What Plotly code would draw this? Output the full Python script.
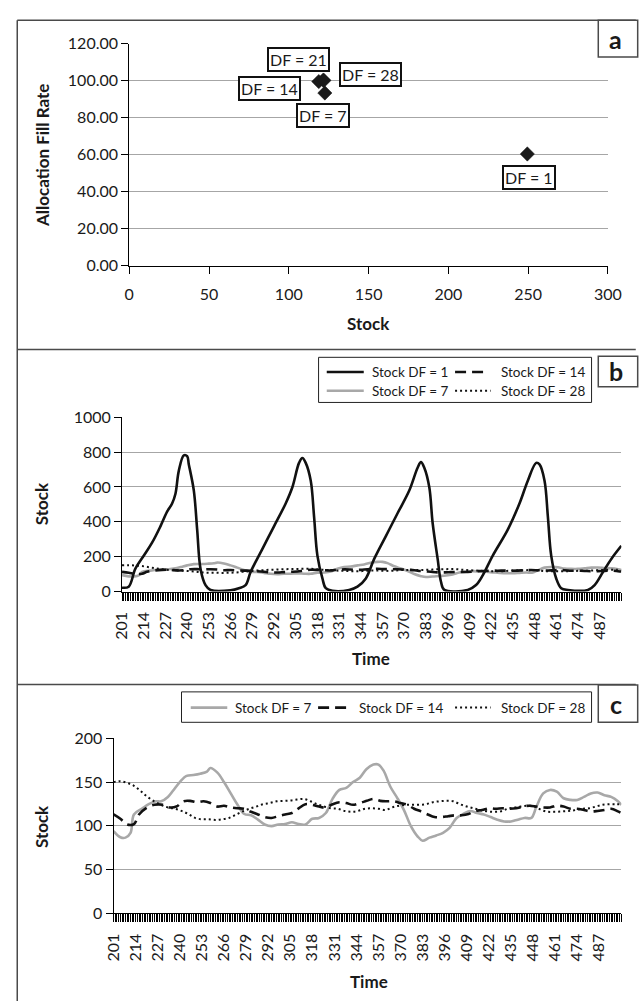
import plotly.graph_objects as go

W, H = 644, 1007

# ---------------- Panel a data ----------------
df_labels = ["DF = 1", "DF = 7", "DF = 14", "DF = 21", "DF = 28"]
stock_mean = [249.5, 122.6, 118.8, 121.6, 122.0]
fill_rate = [60.4, 93.4, 99.6, 100.4, 100.2]
label_offsets = [(1.5, 23.5), (-1.5, 22.5), (-49.5, 7), (-25, -20.5), (47, -6)]

# ---------------- Panel b / c data ----------------
time_df1 = [201, 205, 209, 214, 219, 224, 228, 231, 233, 235, 238, 240, 241, 244, 246, 248, 251, 254,
            266, 271, 275, 278, 285, 292, 299, 303, 307, 309, 311, 314, 316, 318, 321, 323, 327,
            337, 342, 347, 352, 359, 366, 373, 378, 380, 382, 385, 387, 390, 392, 394,
            408, 413, 417, 423, 432, 439, 444, 449, 451, 454, 456, 458, 461, 464, 468,
            480, 484, 489, 494, 500]
stock_df1 = [22, 28, 131, 205, 280, 374, 458, 505, 561, 692, 781, 776, 729, 579, 355, 131, 37, 9,
             7, 19, 37, 112, 243, 374, 505, 598, 738, 766, 738, 636, 430, 206, 75, 19, 4,
             9, 28, 75, 187, 318, 449, 579, 710, 742, 710, 598, 393, 187, 56, 9,
             9, 37, 93, 206, 355, 505, 636, 738, 729, 636, 430, 206, 75, 19, 9,
             9, 37, 112, 187, 262]

time_df7 = [201, 205, 208, 211, 213, 218, 222, 226, 229, 233, 236, 240, 244, 248, 252, 256, 258, 262,
            266, 270, 274, 278, 282, 286, 290, 294, 298, 302, 306, 310, 314, 318, 322, 326, 330,
            334, 338, 342, 346, 350, 354, 357, 360, 364, 368, 372, 376, 380, 383, 387, 391, 395,
            399, 403, 407, 411, 415, 419, 423, 427, 431, 435, 439, 443, 447, 450, 454, 458, 462,
            466, 470, 474, 478, 482, 486, 490, 494, 498, 500]
stock_df7 = [94, 87, 86.5, 92, 113, 120, 125, 128, 128, 133, 140, 150, 157, 158, 159.5, 162, 166, 161,
             150, 137, 124, 113.5, 112, 107, 101.5, 99.6, 101.5, 102, 104, 102, 101.5, 108, 109, 114.6, 131,
             141, 143.4, 150, 155, 165, 170, 170, 163, 144.6, 132, 118, 100, 88, 83, 86.5, 89, 92,
             98, 109, 113.5, 117, 114.6, 113, 110, 107, 105, 105, 107, 109, 109, 122, 137, 141, 139,
             131.5, 129.6, 129.6, 133, 137, 138, 135, 133, 128, 124]

time_df14 = [201, 205, 209, 213, 216, 220, 225, 230, 234, 238, 242, 246, 250, 254, 258, 262, 266, 270,
             274, 278, 282, 286, 290, 294, 298, 302, 306, 310, 314, 318, 322, 326, 330, 334, 338, 342,
             346, 350, 354, 358, 362, 366, 370, 374, 378, 382, 386, 390, 394, 398, 402, 406, 410, 414,
             418, 422, 426, 430, 434, 438, 442, 446, 450, 454, 458, 462, 466, 470, 474, 478, 482, 486,
             490, 494, 498, 500]
stock_df14 = [113, 108, 101.5, 102, 113, 120, 124, 124, 121, 122, 128, 128.5, 127, 128, 126, 122, 123, 121,
              120, 119.5, 116, 113, 110, 109, 111, 113, 114.6, 120, 124.7, 124, 122, 121, 124.7, 127, 126, 124,
              126, 128.5, 130.7, 128.5, 128, 128, 126, 124, 119.5, 116.5, 113, 110, 110, 111, 112, 112, 113.5, 117,
              118, 120, 119.5, 120, 119.5, 120, 122, 123, 122, 121, 121, 123, 122, 119.5, 119.5, 118, 116.5, 117,
              118, 119.5, 116.5, 114.6]

time_df28 = [201, 205, 209, 213, 217, 221, 225, 229, 233, 237, 241, 245, 249, 253, 257, 261, 265, 269,
             273, 277, 281, 285, 289, 293, 297, 301, 305, 309, 313, 317, 321, 325, 329, 333, 337, 341,
             345, 349, 353, 357, 361, 365, 369, 373, 377, 381, 385, 389, 393, 397, 401, 405, 409, 413,
             417, 421, 425, 429, 433, 437, 441, 445, 449, 453, 457, 461, 465, 469, 473, 477, 481, 485,
             489, 493, 497, 500]
stock_df28 = [150, 151, 149, 145.7, 139.7, 133, 128, 124, 121, 119.5, 117, 113.5, 109, 107.5, 107.5, 106.7, 107.5, 109,
              112.7, 116.5, 119.5, 122, 124.7, 126, 128, 128.5, 129, 130, 130.7, 128, 124.7, 122, 120, 119.5, 117, 116,
              117, 119.5, 120, 119.5, 118, 121, 123, 124, 124, 124, 124.7, 127, 128, 128.5, 128, 124.7, 122, 120,
              118, 116.5, 116, 116.5, 119.5, 121, 122, 123, 122, 118, 116, 116, 116.5, 117, 118, 119.5, 120, 122,
              124, 124.7, 124.7, 124.7]

time_ticks = list(range(201, 488, 13))

# ---------------- helpers ----------------
def px(x):
    return x / W

def py(y):
    return 1 - y / H

FONT = "Lato"
DARK = "#1a1a1a"
GRID = "#a6a6a6"
GREYLINE = "#a8a8a8"
BORDER = "#4a4a4a"

fig = go.Figure()

# Panel a
fig.add_trace(go.Scatter(x=stock_mean, y=fill_rate, mode="markers",
                         marker=dict(symbol="diamond", size=11, color="#1a1a1a",
                                     line=dict(color="#1a1a1a", width=0.5)),
                         xaxis="x", yaxis="y", showlegend=False, hoverinfo="skip"))

style = {
    "df1": dict(color="#111111", width=2.6),
    "df7": dict(color=GREYLINE, width=2.6),
    "df14": dict(color="#111111", width=2.6, dash="11px,6px"),
    "df28": dict(color="#111111", width=2.0, dash="2px,3px"),
}

# Panel b
fig.add_trace(go.Scatter(x=time_df7, y=stock_df7, mode="lines", line=style["df7"],
                         line_shape="spline", xaxis="x2", yaxis="y2", showlegend=False))
fig.add_trace(go.Scatter(x=time_df14, y=stock_df14, mode="lines", line=style["df14"],
                         line_shape="spline", xaxis="x2", yaxis="y2", showlegend=False))
fig.add_trace(go.Scatter(x=time_df28, y=stock_df28, mode="lines", line=style["df28"],
                         line_shape="spline", xaxis="x2", yaxis="y2", showlegend=False))
fig.add_trace(go.Scatter(x=time_df1, y=stock_df1, mode="lines", line=style["df1"],
                         line_shape="spline", xaxis="x2", yaxis="y2", showlegend=False))

# Panel c
fig.add_trace(go.Scatter(x=time_df7, y=stock_df7, mode="lines", line=style["df7"],
                         line_shape="spline", xaxis="x3", yaxis="y3", showlegend=False))
fig.add_trace(go.Scatter(x=time_df14, y=stock_df14, mode="lines", line=style["df14"],
                         line_shape="spline", xaxis="x3", yaxis="y3", showlegend=False))
fig.add_trace(go.Scatter(x=time_df28, y=stock_df28, mode="lines", line=style["df28"],
                         line_shape="spline", xaxis="x3", yaxis="y3", showlegend=False))

tickfont = dict(family=FONT, size=16, color=DARK)

common_x = dict(showline=True, linecolor="black", linewidth=1, ticks="outside", ticklen=7,
                tickcolor="black", showgrid=False, zeroline=False, tickfont=tickfont)
common_y = dict(showline=True, linecolor="black", linewidth=1, ticks="outside", ticklen=7,
                tickcolor="black", showgrid=True, gridcolor=GRID, gridwidth=1, zeroline=False,
                tickfont=tickfont)

time_axis = dict(common_x, range=[201, 500], tickmode="array", tickvals=time_ticks,
                 ticktext=[str(t) for t in time_ticks], tickangle=-90, ticklabelstandoff=6,
                 minor=dict(ticks="outside", ticklen=8, tickcolor="black", tickwidth=1,
                            tickmode="linear", tick0=201, dtick=1, showgrid=False))

fig.update_layout(
    width=W, height=H, autosize=False,
    margin=dict(l=0, r=0, t=0, b=0),
    paper_bgcolor="white", plot_bgcolor="white",
    font=dict(family=FONT, color=DARK),
    xaxis=dict(common_x, domain=[px(123), px(621)], range=[0, 300], tickmode="array",
               tickvals=[0, 50, 100, 150, 200, 250, 300], anchor="y", ticklabelstandoff=7),
    yaxis=dict(common_y, domain=[py(260.5), py(34.5)], range=[0, 120], dtick=20, tickformat=".2f",
               anchor="x"),
    xaxis2=dict(time_axis, domain=[px(115.5), px(635)], anchor="y2"),
    yaxis2=dict(common_y, domain=[py(592.7), py(415)], range=[0, 1000], dtick=200, anchor="x2"),
    xaxis3=dict(time_axis, domain=[px(106.7), px(635)], anchor="y3"),
    yaxis3=dict(common_y, domain=[py(920.7), py(742.3)], range=[0, 200], dtick=50, anchor="x3"),
)

shapes = []
annotations = []

# Panel borders
for (x0, y0, x1, y1) in [(6.5, 10.5, 650, 10.5), (6.5, 10.5, 6.5, 1010), (6.5, 346, 650, 346),
                         (6.5, 687.5, 650, 687.5)]:
    shapes.append(dict(type="line", xref="paper", yref="paper", x0=px(x0), y0=py(y0), x1=px(x1), y1=py(y1),
                       line=dict(color=BORDER, width=1.5)))

# Panel letter boxes
for letter, (y0, y1, yc) in zip(["a", "b", "c"], [(10.5, 48, 30), (353, 384, 368), (688, 726, 707)]):
    shapes.append(dict(type="rect", xref="paper", yref="paper", x0=px(611), x1=px(652),
                       y0=py(y1), y1=py(y0), line=dict(color=BORDER, width=1.5), fillcolor="white",
                       layer="above"))
    annotations.append(dict(text=f"<b>{letter}</b>", xref="paper", yref="paper", x=px(629), y=py(yc),
                            showarrow=False, xanchor="center", yanchor="middle",
                            font=dict(family=FONT, size=25, color=DARK)))

# Panel a point labels
for lab, sx, fr, (ox, oy) in zip(df_labels, stock_mean, fill_rate, label_offsets):
    annotations.append(dict(text=lab, x=sx, y=fr, xref="x", yref="y", showarrow=True,
                            arrowcolor="rgba(0,0,0,0)", arrowwidth=0.1, ax=ox, ay=oy,
                            bordercolor="#111111", borderwidth=2, borderpad=1, bgcolor="white",
                            font=dict(family=FONT, size=16, color=DARK)))

# Axis titles
def title(text, x, y, angle=0):
    annotations.append(dict(text=f"<b>{text}</b>", xref="paper", yref="paper", x=px(x), y=py(y),
                            showarrow=False, textangle=angle, xanchor="center", yanchor="middle",
                            font=dict(family=FONT, size=17, color=DARK)))

title("Allocation Fill Rate", 32, 148, -90)
title("Stock", 372, 320)
title("Stock", 32, 503, -90)
title("Time", 375, 661)
title("Stock", 32, 832, -90)
title("Time", 372, 990)

# Legends (drawn manually)
def legend_box(x0, y0, x1, y1):
    shapes.append(dict(type="rect", xref="paper", yref="paper", x0=px(x0), x1=px(x1),
                       y0=py(y1), y1=py(y0), line=dict(color="#222222", width=1), fillcolor="white"))

def legend_item(x0, x1, y, line, text, tx):
    shapes.append(dict(type="line", xref="paper", yref="paper", x0=px(x0), x1=px(x1), y0=py(y), y1=py(y),
                       line=line))
    annotations.append(dict(text=text, xref="paper", yref="paper", x=px(tx), y=py(y), showarrow=False,
                            xanchor="left", yanchor="middle", font=dict(family=FONT, size=13.5, color=DARK)))

legend_box(320, 354, 604, 400)
legend_item(328.5, 367, 369, style["df1"], "Stock DF = 1", 373)
legend_item(462, 494, 369, style["df14"], "Stock DF = 14", 508)
legend_item(328.5, 367, 388, style["df7"], "Stock DF = 7", 373)
legend_item(462, 499, 388, style["df28"], "Stock DF = 28", 508)

legend_box(177.4, 695, 604, 726)
legend_item(187, 225, 711, style["df7"], "Stock DF = 7", 231)
legend_item(319.5, 350, 711, style["df14"], "Stock DF = 14", 360)
legend_item(462, 499, 711, style["df28"], "Stock DF = 28", 508)

fig.update_layout(shapes=shapes, annotations=annotations)

fig.write_html("out.html")
